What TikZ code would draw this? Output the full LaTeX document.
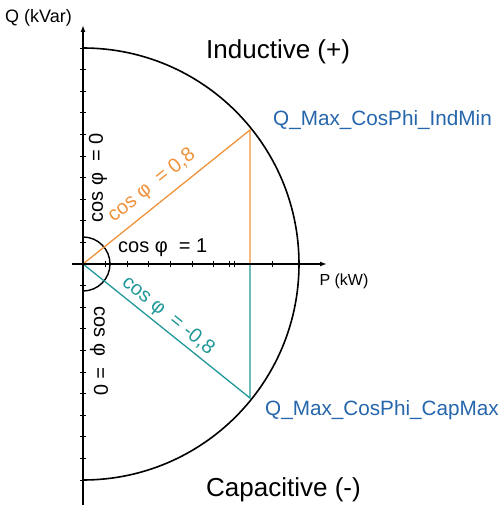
\documentclass[tikz,border=0pt]{standalone}
\usepackage{fontspec}
\setmainfont{Liberation Sans}
\usetikzlibrary{arrows.meta}
\definecolor{orng}{RGB}{240,146,58}
\definecolor{tealc}{RGB}{32,152,152}
\definecolor{bluc}{RGB}{38,102,172}
\begin{document}
\begin{tikzpicture}[x=1pt,y=1pt,
  axis/.style={line width=1.6pt,-{Latex[length=7pt,width=5pt]}},
  tickmark/.style={line width=0.9pt},
  lbl/.style={inner sep=0pt,font=\fontsize{16}{18}\selectfont},
  cosl/.style={inner sep=0pt,font=\fontsize{20}{23}\selectfont},
  big/.style={inner sep=0pt,anchor=west,font=\fontsize{26}{30}\selectfont},
  blu/.style={inner sep=0pt,anchor=west,text=bluc,font=\fontsize{20.7}{24}\selectfont}]
\useasboundingbox (-83,-242) rectangle (420,264);
\coordinate (O) at (0,0);
\coordinate (Ytop) at (0,239);
\coordinate (Ybot) at (0,-241);
\coordinate (Xl) at (-11,0);
\coordinate (Xr) at (244,0);
\coordinate (Ctop) at (0,216);
\coordinate (Pind) at (167,134);
\coordinate (Pcap) at (167,-134);
\coordinate (Foot) at (167,0);
% ticks
\foreach \k in {-10,...,-1,1,2,...,10}
  \draw[tickmark] (-3,\k*21.6) -- (3,\k*21.6);
\foreach \x in {22,44,65,87,109,130,146,151,189}
  \draw[tickmark] (\x,-3) -- (\x,3);
% circle
\draw[line width=1.6pt] (Ctop) arc[start angle=90,end angle=-90,radius=216];
% angle arc
\draw[line width=1.4pt] (0,27) arc[start angle=90,end angle=-90,radius=27];
% colored lines
\draw[orng,line width=1.3pt] (O) -- (Pind) -- (Foot);
\draw[tealc,line width=1.3pt] (O) -- (Pcap) -- (Foot);
% axes
\draw[axis] (Ybot) -- (Ytop);
\draw[axis] (Xl) -- (Xr);
% labels
\node[lbl,font=\fontsize{18}{20}\selectfont] (qlab) at (-44.5,246) {Q (kVar)};
\node[lbl] (plab) at (261,-17) {P (kW)};
\node[big] (ind) at (123,212) {Inductive (+)};
\node[big] (cap) at (123,-226) {Capacitive (-)};
\node[blu] (qind) at (190,144) {Q\_Max\_CosPhi\_IndMin};
\node[blu] (qcap) at (182,-146) {Q\_Max\_CosPhi\_CapMax};
\node[cosl,anchor=west] (c1) at (35,16) {cos φ\ \ = 1};
\node[cosl,rotate=90] (c0u) at (15,86) {cos φ\ \ = 0};
\node[cosl,rotate=-90] (c0d) at (16,-87) {cos φ\ \ = 0};
\node[cosl,rotate=38.7,text=orng] (c08) at (69,78) {cos φ\ \ = 0,8};
\node[cosl,rotate=-39,text=tealc] (cm08) at (85,-52) {cos φ\ \ = -0,8};
\end{tikzpicture}
\end{document}
